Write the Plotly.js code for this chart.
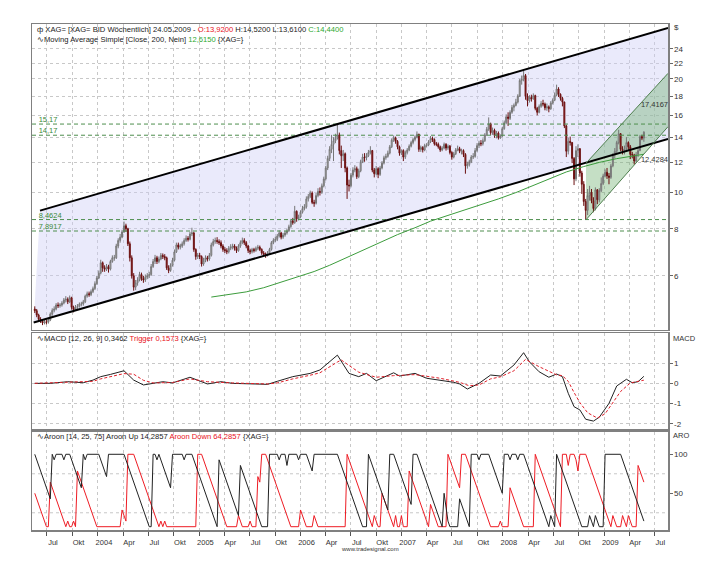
<!DOCTYPE html>
<html><head><meta charset="utf-8">
<script src="https://cdn.plot.ly/plotly-3.0.1.min.js"></script>
<style>html,body{margin:0;padding:0;background:#fff;}#chart{width:714px;height:576px;}</style>
</head><body><div id="chart"></div>
<script>
// ---- weekly silver candles (XAG=), week ending dates from 2003-05-18 ----
const opens = [
4.90,4.85,4.72,4.60,4.55,4.50,4.53,4.52,4.58,4.75,4.86,4.90,5.02,5.00,5.02,5.08,5.18,5.20,5.12,5.25,4.95,4.88,4.95,4.98,5.05,5.05,5.12,5.30,5.38,5.35,5.45,5.55,5.72,
5.92,6.10,6.50,6.30, 6.25,6.35,6.25,6.55,6.70, 6.70,7.20,7.45,7.60, 7.85,8.15,8.00,7.30, 6.70,6.00,5.60,5.75,5.85, 6.05,5.90,5.85,5.95, 6.00,6.05,6.35,6.55, 6.70,6.55,6.65,6.80,6.75, 6.70,6.30,6.20,6.40, 6.60,6.95,7.25,7.15,7.20, 7.30,7.45,7.55,7.50, 7.75,7.80,7.05,6.75,
6.80,6.75,6.45,6.60,6.70, 6.65,6.80,7.25,7.40, 7.45,7.40,7.35,7.20, 7.05,7.00,6.95,7.10, 7.15,7.20,7.10,7.00,7.20, 7.35,7.45,7.35,7.20, 7.00,6.95,7.05,7.00,7.10, 7.15,7.05,6.90,6.85, 6.80,6.90,7.05,7.35, 7.45,7.50,7.65,7.80,7.60, 7.70,7.80,7.90,8.10, 8.40,8.30,8.90,8.50,
8.60,8.85,9.05,9.15,9.60, 9.75,9.95,9.40,9.35, 9.80,10.05,10.00,10.40, 10.85,11.60,12.30,13.00,13.40, 13.70,13.90,14.20,12.90, 12.50,12.65,11.60,10.45, 10.40,11.10,11.45,11.55,11.00, 11.40,12.05,12.40,12.35, 12.50,12.75,12.90,11.45, 11.20,11.55,11.15,11.60,11.95, 12.35,12.45,12.70,13.20, 13.75,13.95,13.65,13.20,12.70,
12.90,12.40,12.75,12.95, 13.25,13.55,13.80,14.00, 14.25,13.00,13.15,12.95, 13.30,13.35,13.60,13.90,13.80, 13.45,13.40,13.20,12.95, 13.10,13.40,13.10,13.25, 12.75,12.40,12.65,12.95,13.05, 12.85,12.90,12.60,11.75, 11.85,12.05,12.40,12.45,12.90, 13.30,13.50,13.45,13.70, 14.20,14.70,15.20,14.40, 14.60,14.15,14.35,13.95,14.10,
14.75,15.30,15.85,15.70, 16.30,16.80,17.00,17.35, 18.00,19.80,19.95,20.40,18.00, 17.50,17.85,17.70,18.05, 16.70,16.30,16.90,17.20, 17.15,16.75,16.85,16.65,17.25, 17.55,18.10,18.80,18.20, 17.75,17.35,15.00,12.85,13.65, 13.55,12.30,10.85,12.90, 13.05,11.25,10.50,9.45, 8.95,9.80,10.00,9.50,9.05, 10.15,9.55,10.10,10.55,
11.05,11.30,11.05,10.95, 11.75,12.55,12.85,13.55, 14.30,13.00,12.90,13.05,13.55, 13.20,12.60,12.55,12.10, 12.60,12.90,14.05,13.92];
const highs = [
4.98,4.90,4.76,4.66,4.60,4.60,4.58,4.64,4.80,4.92,4.98,5.08,5.10,5.08,5.14,5.24,5.30,5.26,5.32,5.28,5.00,5.02,5.05,5.10,5.12,5.18,5.35,5.45,5.45,5.52,5.62,5.80,6.00,
6.20,6.62,6.55,6.40, 6.45,6.42,6.62,6.80,6.82, 7.30,7.55,7.75,7.95, 8.36,8.25,8.05,7.40, 6.80,6.10,5.85,5.95,6.15, 6.12,6.00,6.05,6.10, 6.15,6.45,6.65,6.82, 6.78,6.75,6.90,6.88,6.85, 6.75,6.40,6.48,6.70, 7.05,7.35,7.35,7.30,7.40, 7.55,7.68,7.65,7.85, 8.05,7.85,7.10,6.90,
6.90,6.80,6.70,6.80,6.78, 6.90,7.35,7.52,7.58, 7.60,7.50,7.45,7.28, 7.15,7.10,7.20,7.28, 7.30,7.28,7.18,7.28,7.45, 7.58,7.55,7.42,7.25, 7.08,7.12,7.12,7.18,7.25, 7.22,7.10,6.98,6.92, 6.98,7.12,7.42,7.55, 7.62,7.75,7.92,7.85,7.80, 7.90,8.00,8.20,8.50, 8.55,9.20,8.95,8.72,
8.95,9.20,9.30,9.75,9.90, 10.10,10.05,9.55,9.95, 10.25,10.30,10.55,11.00, 11.75,12.50,13.25,14.20,14.00, 14.30,15.15,14.40,13.30, 12.95,12.75,11.70,10.80, 11.25,11.65,11.80,11.70,11.55, 12.20,12.65,12.70,12.70, 12.95,13.25,12.95,11.60, 11.75,11.65,11.75,12.10,12.50, 12.65,12.90,13.35,13.90, 14.15,14.05,13.75,13.30,13.00,
13.00,12.90,13.10,13.40, 13.70,13.95,14.15,14.50, 14.30,13.30,13.25,13.45, 13.50,13.75,14.10,14.05,13.90, 13.60,13.55,13.30,13.25, 13.55,13.50,13.40,13.35, 12.85,12.80,13.10,13.30,13.20, 13.05,13.00,12.70,12.05, 12.20,12.55,12.70,13.10,13.50, 13.70,13.75,13.90,14.35, 14.90,15.80,15.30,14.85, 14.75,14.55,14.50,14.25,14.90,
15.50,16.10,16.30,16.50, 17.05,17.20,17.70,18.20, 20.00,20.40,21.00,20.60,18.30, 18.10,18.15,18.30,18.15, 16.85,17.10,17.45,17.60, 17.30,17.20,17.00,17.45,17.75, 18.40,19.30,19.00,18.30, 17.90,17.40,15.10,13.95,14.05, 13.60,12.40,13.25,13.40, 13.10,11.40,10.70,9.60, 10.20,10.40,10.20,9.70,10.30, 10.20,10.25,10.95,11.20,
11.50,11.60,11.25,11.90, 12.70,13.10,13.70,14.65, 14.35,13.25,13.30,14.00,13.65, 13.35,12.80,12.65,12.80, 13.10,14.20,14.20,14.52];
const lows = [
4.78,4.66,4.54,4.50,4.44,4.46,4.46,4.48,4.55,4.70,4.80,4.86,4.93,4.94,4.97,5.04,5.10,5.05,5.08,4.88,4.80,4.84,4.90,4.94,4.98,5.00,5.08,5.25,5.28,5.30,5.40,5.50,5.68,
5.88,6.05,6.15,6.15, 6.18,6.12,6.20,6.50,6.58, 6.65,7.10,7.35,7.55, 7.80,7.85,7.20,6.55, 5.90,5.48,5.50,5.65,5.80, 5.82,5.75,5.78,5.88, 5.92,6.00,6.30,6.45, 6.45,6.48,6.60,6.65,6.60, 6.22,6.10,6.15,6.35, 6.55,6.90,7.05,7.05,7.12, 7.22,7.38,7.40,7.45, 7.65,6.95,6.62,6.65,
6.65,6.35,6.38,6.52,6.55, 6.58,6.75,7.18,7.30, 7.30,7.25,7.10,6.95, 6.90,6.85,6.88,7.02, 7.05,7.00,6.90,6.95,7.12, 7.28,7.25,7.10,6.90, 6.85,6.88,6.92,6.95,7.02, 6.98,6.82,6.78,6.70, 6.75,6.85,7.00,7.28, 7.38,7.42,7.58,7.50,7.52, 7.62,7.72,7.85,8.05, 8.20,8.25,8.35,8.42,
8.55,8.78,8.95,9.05,9.45, 9.65,9.30,9.15,9.28, 9.70,9.80,9.90,10.30, 10.75,11.45,12.10,12.70,12.10, 13.50,13.80,12.60,11.60, 12.10,11.30,9.60,10.05, 10.30,10.95,11.30,10.85,10.90, 11.30,11.95,12.05,12.15, 12.40,12.60,11.30,10.95, 11.10,10.90,11.05,11.50,11.85, 12.20,12.35,12.60,13.10, 13.60,13.45,13.00,12.50,12.55,
12.10,12.25,12.60,12.85, 13.15,13.40,13.65,13.90, 12.80,12.80,12.75,12.85, 13.15,13.25,13.50,13.60,13.30, 13.25,13.05,12.80,12.85, 13.00,12.90,12.95,12.60, 12.20,12.30,12.55,12.85,12.70, 12.60,12.40,11.20,11.55, 11.70,11.95,12.25,12.35,12.80, 13.10,13.25,13.30,13.60, 14.10,14.55,14.20,14.20, 13.95,13.90,13.80,13.85,14.00,
14.65,15.15,15.00,15.55, 16.15,16.40,16.90,17.20, 17.90,19.30,19.70,17.60,16.90, 17.30,17.40,17.60,16.50, 16.00,16.20,16.75,16.90, 16.50,16.45,16.30,16.55,17.10, 17.45,18.00,17.90,17.50, 16.90,14.80,12.40,12.60,13.30, 11.95,10.45,10.70,12.40, 11.00,9.90,9.20,8.45, 8.70,9.50,9.35,8.85,8.95, 9.30,9.40,10.00,10.45,
10.95,10.85,10.50,10.85, 11.65,12.30,12.70,13.40, 12.85,12.60,12.60,12.80,12.90, 12.25,12.30,11.85,12.00, 12.40,12.85,13.75,13.61];
const closes = [
4.85,4.72,4.60,4.55,4.50,4.53,4.52,4.58,4.75,4.86,4.90,5.02,5.00,5.02,5.08,5.18,5.20,5.12,5.25,4.95,4.88,4.95,4.98,5.05,5.05,5.12,5.30,5.38,5.35,5.45,5.55,5.72,5.92,
6.10,6.50,6.30,6.25, 6.35,6.25,6.55,6.70,6.70, 7.20,7.45,7.60,7.85, 8.15,8.00,7.30,6.70, 6.00,5.60,5.75,5.85,6.05, 5.90,5.85,5.95,6.00, 6.05,6.35,6.55,6.70, 6.55,6.65,6.80,6.75,6.70, 6.30,6.20,6.40,6.60, 6.95,7.25,7.15,7.20,7.30, 7.45,7.55,7.50,7.75, 7.80,7.05,6.75,6.80,
6.75,6.45,6.60,6.70,6.65, 6.80,7.25,7.40,7.45, 7.40,7.35,7.20,7.05, 7.00,6.95,7.10,7.15, 7.20,7.10,7.00,7.20,7.35, 7.45,7.35,7.20,7.00, 6.95,7.05,7.00,7.10,7.15, 7.05,6.90,6.85,6.80, 6.90,7.05,7.35,7.45, 7.50,7.65,7.80,7.60,7.70, 7.80,7.90,8.10,8.40, 8.30,8.90,8.50,8.60,
8.85,9.05,9.15,9.60,9.75, 9.95,9.40,9.35,9.80, 10.05,10.00,10.40,10.85, 11.60,12.30,13.00,13.40,13.70, 13.90,14.20,12.90,12.50, 12.65,11.60,10.45,10.40, 11.10,11.45,11.55,11.00,11.40, 12.05,12.40,12.35,12.50, 12.75,12.90,11.45,11.20, 11.55,11.15,11.60,11.95,12.35, 12.45,12.70,13.20,13.75, 13.95,13.65,13.20,12.70,12.90,
12.40,12.75,12.95,13.25, 13.55,13.80,14.00,14.25, 13.00,13.15,12.95,13.30, 13.35,13.60,13.90,13.80,13.45, 13.40,13.20,12.95,13.10, 13.40,13.10,13.25,12.75, 12.40,12.65,12.95,13.05,12.85, 12.90,12.60,11.75,11.85, 12.05,12.40,12.45,12.90,13.30, 13.50,13.45,13.70,14.20, 14.70,15.20,14.40,14.60, 14.15,14.35,13.95,14.10,14.75,
15.30,15.85,15.70,16.30, 16.80,17.00,17.35,18.00, 19.80,19.95,20.40,18.00,17.50, 17.85,17.70,18.05,16.70, 16.30,16.90,17.20,17.15, 16.75,16.85,16.65,17.25,17.55, 18.10,18.80,18.20,17.75, 17.35,15.00,12.85,13.65,13.55, 12.30,10.85,12.90,13.05, 11.25,10.50,9.45,8.95, 9.80,10.00,9.50,9.05,10.15, 9.55,10.10,10.55,11.05,
11.30,11.05,10.95,11.75, 12.55,12.85,13.55,14.30, 13.00,12.90,13.05,13.55,13.20, 12.60,12.55,12.10,12.60, 12.90,14.05,13.92,14.44];

// ---- Moving Average Simple (200) ----
const smaDates = ['2005-02-13','2005-04-17','2005-06-19','2005-08-21','2005-10-16','2005-12-18','2006-02-19','2006-04-16','2006-06-18','2006-08-20','2006-10-15','2006-12-17','2007-02-18','2007-04-15','2007-06-17','2007-08-19','2007-10-21','2007-12-16','2008-02-17','2008-04-20','2008-06-15','2008-08-17','2008-10-19','2008-12-14','2009-02-15','2009-04-19','2009-05-24'];
const smaValues = [5.27,5.35,5.44,5.58,5.76,5.96,6.16,6.40,6.72,7.05,7.38,7.72,8.05,8.38,8.68,8.98,9.28,9.60,9.98,10.42,10.88,11.32,11.70,12.00,12.28,12.50,12.615];

// ---- horizontal levels ----
const levelValues = [15.17, 14.17, 8.4624, 7.8917];
const levelLabels = ['15,17', '14,17', '8,4624', '7,8917'];

// ---- trend channel (black) and green channel ----
const chanLowerDates = ['2003-05-14', '2009-08-19'];
const chanLowerValues = [4.51, 13.86];
const chanUpperDates = ['2003-06-06', '2009-08-19'];
const chanUpperValues = [8.94, 27.3];
const greenLowerDates = ['2008-10-27', '2009-08-19'];
const greenLowerValues = [8.45, 14.93];
const greenUpperDates = ['2008-10-27', '2009-08-19'];
const greenUpperValues = [11.94, 20.68];
const greenLabels = ['17,4167', '12,4284'];
const greenLabelValues = [17.4167, 12.4284];

// ---- MACD ----
const macdDates = ['2003-05-18','2003-07-13','2003-09-14','2003-11-09','2003-12-14','2004-01-11','2004-02-15','2004-04-04','2004-05-09','2004-06-13','2004-07-18','2004-08-22','2004-09-26','2004-11-28','2005-01-30','2005-03-20','2005-05-01','2005-07-03','2005-09-04','2005-10-09','2005-12-04','2006-02-05','2006-03-12','2006-05-14','2006-06-25','2006-07-30','2006-08-27','2006-10-01','2006-12-03','2006-12-24','2007-02-18','2007-04-01','2007-05-20','2007-07-08','2007-07-29','2007-08-26','2007-10-07','2007-11-18','2007-12-23','2008-02-10','2008-03-16','2008-04-06','2008-05-11','2008-06-15','2008-07-13','2008-08-03','2008-08-24','2008-09-14','2008-10-05','2008-10-26','2008-11-23','2008-12-14','2009-01-18','2009-02-15','2009-03-22','2009-04-12','2009-05-03','2009-05-24'];
const macdValues = [0.00,0.00,0.08,0.03,0.16,0.33,0.44,0.62,0.16,-0.08,0.00,0.08,0.02,0.30,-0.03,0.08,0.00,-0.03,-0.05,0.10,0.33,0.49,0.66,1.39,0.49,0.33,0.49,0.13,0.52,0.36,0.49,0.25,0.16,0.05,-0.03,-0.28,0.00,0.41,0.36,0.90,1.51,1.06,0.57,0.30,0.46,0.33,-0.49,-1.15,-1.31,-1.77,-1.86,-1.67,-0.99,-0.13,0.20,0.03,0.08,0.3462];
const triggerDates = ['2003-05-18','2003-09-14','2003-12-14','2004-01-11','2004-04-04','2004-05-09','2004-06-13','2004-07-18','2004-09-26','2004-11-28','2005-01-30','2005-05-01','2005-09-04','2005-10-09','2005-12-04','2006-02-05','2006-03-12','2006-05-14','2006-05-28','2006-07-30','2006-10-01','2006-12-03','2007-02-18','2007-05-20','2007-07-29','2007-09-02','2007-10-07','2007-11-18','2007-12-23','2008-02-10','2008-03-23','2008-05-11','2008-07-13','2008-08-03','2008-08-24','2008-09-14','2008-10-05','2008-11-02','2008-12-07','2009-01-04','2009-02-01','2009-03-01','2009-04-05','2009-05-03','2009-05-24'];
const triggerValues = [0.00,0.04,0.10,0.22,0.48,0.45,0.15,0.02,0.04,0.22,0.08,0.02,-0.03,0.02,0.22,0.40,0.52,1.05,1.15,0.55,0.30,0.38,0.43,0.25,0.05,-0.12,-0.08,0.22,0.32,0.62,1.18,0.82,0.42,0.38,0.10,-0.45,-0.95,-1.45,-1.71,-1.50,-0.95,-0.40,0.02,0.10,0.1573];

// ---- Aroon (vertices, by week index) ----
const aroonUpWeek = [0,8,9,10,11,14,15,16,18,24,25,26,27,33,37,38,46,59,60,61,62,63,64,70,71,76,77,78,81,94,95,105,106,117,120,121,125,126,127,129,130,131,135,136,137,140,143,144,156,169,171,172,181,182,183,185,194,195,197,210,211,213,214,218,219,224,225,228,229,230,234,241,242,244,245,246,248,249,250,252,265,266,267,268,269,282,285,286,287,288,289,290,291,293,294,302,314];
const aroonUpValues = [100,42.9,100,92.9,100,100,92.9,100,100,57.1,100,92.9,100,100,71.4,100,100,7.14,7.14,100,100,92.9,100,57.1,100,100,92.9,100,100,7.14,92.9,21.4,85.7,7.14,7.14,100,100,92.9,100,100,85.7,100,100,92.9,100,100,78.6,100,100,7.14,7.14,100,35.7,28.6,100,100,35.7,100,100,7.14,50,14.3,7.14,7.14,42.9,7.14,100,100,92.9,100,100,50,100,100,92.9,100,100,92.9,100,100,7.14,21.4,14.3,7.14,100,7.14,7.14,21.4,14.3,7.14,21.4,14.3,7.14,7.14,100,100,14.3];
const aroonDownWeek = [0,6,7,8,16,17,18,19,20,21,22,32,44,45,47,48,51,64,65,66,67,68,83,84,86,99,104,105,106,107,110,111,112,114,115,116,117,119,132,136,137,140,143,144,146,160,161,174,175,176,177,178,179,185,186,187,188,189,190,192,193,203,204,208,212,213,214,216,219,220,222,235,239,240,241,244,245,252,257,258,271,272,274,275,276,278,279,280,281,284,296,297,298,299,300,302,303,304,305,306,307,308,310,311,312,313,314];
const aroonDownValues = [50,7.14,7.14,64.3,7.14,14.3,7.14,7.14,14.3,7.14,78.6,7.14,7.14,28.6,14.3,100,100,7.14,14.3,7.14,14.3,7.14,7.14,100,100,7.14,7.14,21.4,14.3,7.14,7.14,14.3,7.14,7.14,71.4,64.3,100,100,7.14,7.14,28.6,7.14,7.14,21.4,7.14,7.14,100,7.14,21.4,14.3,7.14,7.14,50,7.14,21.4,7.14,7.14,21.4,7.14,7.14,78.6,7.14,35.7,7.14,7.14,100,92.9,78.6,57.1,100,100,7.14,7.14,14.3,7.14,7.14,57.1,7.14,7.14,100,7.14,100,100,85.7,100,100,92.9,78.6,100,100,14.3,7.14,21.4,14.3,7.14,7.14,21.4,14.3,7.14,21.4,14.3,7.14,7.14,85.7,78.6,71.4,64.3];

// ---- axes ----
const tickDates = ['2003-07-01','2003-10-01','2004-01-01','2004-04-01','2004-07-01','2004-10-01','2005-01-01','2005-04-01','2005-07-01','2005-10-01','2006-01-01','2006-04-01','2006-07-01','2006-10-01','2007-01-01','2007-04-01','2007-07-01','2007-10-01','2008-01-01','2008-04-01','2008-07-01','2008-10-01','2009-01-01','2009-04-01','2009-07-01'];
const tickLabels = ['Jul','Okt','2004','Apr','Jul','Okt','2005','Apr','Jul','Okt','2006','Apr','Jul','Okt','2007','Apr','Jul','Okt','2008','Apr','Jul','Okt','2009','Apr','Jul'];
const priceTicks = [6,8,10,12,14,16,18,20,22,24];
const macdTicks = [-2,-1,0,1];
const aroonTicks = [50,100];
const xRange = ['2003-05-08','2009-08-19'];

const weekDates = [];
const t0 = Date.UTC(2003, 4, 18);
for (let i = 0; i < closes.length; i++) weekDates.push(new Date(t0 + i * 7 * 86400000).toISOString().slice(0, 10));

const FONT = 'Liberation Sans, Arial, sans-serif';
const traces = [];
// lavender channel fill (base subplot)
traces.push({type:'scatter', mode:'lines', xaxis:'x', yaxis:'y',
  x:[chanLowerDates[0], chanLowerDates[1], chanUpperDates[1], chanUpperDates[0]],
  y:[chanLowerValues[0], chanLowerValues[1], chanUpperValues[1], chanUpperValues[0]],
  fill:'toself', fillcolor:'rgba(205,205,245,0.42)', line:{width:0, color:'rgba(0,0,0,0)'}, hoverinfo:'skip'});
// green channel fill
traces.push({type:'scatter', mode:'lines', xaxis:'x', yaxis:'y',
  x:[greenLowerDates[0], greenLowerDates[1], greenUpperDates[1], greenUpperDates[0]],
  y:[greenLowerValues[0], greenLowerValues[1], greenUpperValues[1], greenUpperValues[0]],
  fill:'toself', fillcolor:'rgba(110,175,110,0.40)', line:{width:0, color:'rgba(0,0,0,0)'}, hoverinfo:'skip'});
// candles (overlay)
traces.push({type:'candlestick', xaxis:'x', yaxis:'y4', x:weekDates, open:opens, high:highs, low:lows, close:closes,
  increasing:{line:{color:'#767676', width:1}, fillcolor:'#d2d2d2'},
  decreasing:{line:{color:'#6a1010', width:1}, fillcolor:'#a32020'}, whiskerwidth:0, hoverinfo:'skip'});
// SMA
traces.push({type:'scatter', mode:'lines', xaxis:'x', yaxis:'y4', x:smaDates, y:smaValues, line:{color:'#3c9c3c', width:1}, hoverinfo:'skip'});
// levels
const lvX = [], lvY = [];
levelValues.forEach(v => { lvX.push(xRange[0], xRange[1], null); lvY.push(v, v, null); });
traces.push({type:'scatter', mode:'lines', xaxis:'x', yaxis:'y4', x:lvX, y:lvY, connectgaps:false,
  line:{color:'#4e8e4e', width:1, dash:'4px,3px'}, hoverinfo:'skip'});
traces.push({type:'scatter', mode:'text', xaxis:'x', yaxis:'y4', x:levelValues.map(() => '2003-06-01'), y:levelValues,
  text:levelLabels, textposition:'top right', textfont:{family:FONT, size:7.5, color:'#3a8a3a'}, hoverinfo:'skip'});
// black channel lines
traces.push({type:'scatter', mode:'lines', xaxis:'x', yaxis:'y4',
  x:[chanLowerDates[0], chanLowerDates[1], null, chanUpperDates[0], chanUpperDates[1]],
  y:[chanLowerValues[0], chanLowerValues[1], null, chanUpperValues[0], chanUpperValues[1]],
  connectgaps:false, line:{color:'#000', width:2}, hoverinfo:'skip'});
// green channel lines
traces.push({type:'scatter', mode:'lines', xaxis:'x', yaxis:'y4',
  x:[greenLowerDates[0], greenLowerDates[1], null, greenUpperDates[0], greenUpperDates[1]],
  y:[greenLowerValues[0], greenLowerValues[1], null, greenUpperValues[0], greenUpperValues[1]],
  connectgaps:false, line:{color:'#4f7f4f', width:1}, hoverinfo:'skip'});
traces.push({type:'scatter', mode:'text', xaxis:'x', yaxis:'y4', x:greenLabelValues.map(() => xRange[1]), y:greenLabelValues,
  text:greenLabels, textposition:'bottom left', textfont:{family:FONT, size:7.5, color:'#333'}, hoverinfo:'skip'});
// MACD
traces.push({type:'scatter', mode:'lines', xaxis:'x2', yaxis:'y2', x:macdDates, y:macdValues, line:{color:'#222', width:1}, hoverinfo:'skip'});
traces.push({type:'scatter', mode:'lines', xaxis:'x2', yaxis:'y2', x:triggerDates, y:triggerValues, line:{color:'#e0202a', width:1, dash:'3px,2px'}, hoverinfo:'skip'});
// Aroon
traces.push({type:'scatter', mode:'lines', xaxis:'x3', yaxis:'y3', x:aroonDownWeek.map(i => weekDates[i]), y:aroonDownValues, line:{color:'#ee1c24', width:1}, hoverinfo:'skip'});
traces.push({type:'scatter', mode:'lines', xaxis:'x3', yaxis:'y3', x:aroonUpWeek.map(i => weekDates[i]), y:aroonUpValues, line:{color:'#222', width:1}, hoverinfo:'skip'});

const gridX = {type:'date', range:xRange, tickvals:tickDates, ticktext:tickLabels, showgrid:true, gridcolor:'#c8c8c8', griddash:'dot',
  showline:true, mirror:true, linecolor:'#808080', linewidth:1.5, zeroline:false, rangeslider:{visible:false}};
const yBase = {side:'right', showline:true, mirror:true, linecolor:'#808080', linewidth:1.5, zeroline:false,
  ticks:'outside', ticklen:3, tickcolor:'#666', tickfont:{family:FONT, size:8, color:'#333'}, showgrid:true, gridcolor:'#c8c8c8', griddash:'dot'};
const yLog = [Math.log10(4.31), Math.log10(27.96)];

const layout = {
  width:714, height:576, paper_bgcolor:'#fff', plot_bgcolor:'#fff', showlegend:false, hovermode:false, dragmode:false,
  margin:{l:32, r:46, t:24, b:46},
  font:{family:FONT, size:8, color:'#333'},
  xaxis: Object.assign({}, gridX, {anchor:'y', showticklabels:false, ticks:''}),
  xaxis2: Object.assign({}, gridX, {anchor:'y2', matches:'x', showticklabels:false, ticks:''}),
  xaxis3: Object.assign({}, gridX, {anchor:'y3', matches:'x', showticklabels:true, ticks:'outside', ticklen:4, tickcolor:'#555',
    ticklabelshift:6, tickfont:{family:FONT, size:7.5, color:'#333'}}),
  yaxis: Object.assign({}, yBase, {domain:[0.3953, 1], anchor:'x', type:'log', range:yLog, tickvals:priceTicks, ticktext:priceTicks.map(String)}),
  yaxis4: {overlaying:'y', anchor:'x', type:'log', range:yLog, side:'right', visible:false, showgrid:false, zeroline:false},
  yaxis2: Object.assign({}, yBase, {domain:[0.1996, 0.3893], anchor:'x2', range:[-2.25, 2.48], tickvals:macdTicks, ticktext:macdTicks.map(String)}),
  yaxis3: Object.assign({}, yBase, {domain:[0, 0.1937], anchor:'x3', range:[2.9, 128.6], tickvals:aroonTicks, ticktext:aroonTicks.map(String), showgrid:false}),
  shapes:[25, 75].map(v => ({type:'line', xref:'paper', x0:0, x1:1, yref:'y3', y0:v, y1:v, layer:'below', line:{color:'#c8c8c8', width:1, dash:'dot'}})),
  annotations:[
    {xref:'paper', yref:'paper', x:0.004, y:0.990, xanchor:'left', yanchor:'middle', showarrow:false, font:{family:FONT, size:7.6, color:'#222'},
      text:'ф XAG= [XAG= BID Wöchentlich] 24.05.2009 - <span style="color:#e8101a">O:13,9200</span> H:14,5200 L:13,6100 <span style="color:#2ea82e">C:14,4400</span>'},
    {xref:'paper', yref:'paper', x:0.004, y:0.970, xanchor:'left', yanchor:'middle', showarrow:false, font:{family:FONT, size:7.6, color:'#222'},
      text:'∿Moving Average Simple [Close, 200, Nein] <span style="color:#2ea82e">12,6150</span> {XAG=}'},
    {xref:'paper', yref:'paper', x:0.004, y:0.3775, xanchor:'left', yanchor:'middle', showarrow:false, font:{family:FONT, size:7.6, color:'#222'},
      text:'∿MACD [12, 26, 9] 0,3462 <span style="color:#e8101a">Trigger 0,1573</span> {XAG=}'},
    {xref:'paper', yref:'paper', x:0.004, y:0.1838, xanchor:'left', yanchor:'middle', showarrow:false, font:{family:FONT, size:7.6, color:'#222'},
      text:'∿Aroon [14, 25, 75] Aroon Up 14,2857 <span style="color:#e8101a">Aroon Down 64,2857</span> {XAG=}'},
    {xref:'paper', yref:'paper', x:1.006, y:0.993, xanchor:'left', yanchor:'middle', showarrow:false, font:{family:FONT, size:8, color:'#333'}, text:'$'},
    {xref:'paper', yref:'paper', x:1.004, y:0.3794, xanchor:'left', yanchor:'middle', showarrow:false, font:{family:FONT, size:7.5, color:'#333'}, text:'MACD'},
    {xref:'paper', yref:'paper', x:1.004, y:0.1858, xanchor:'left', yanchor:'middle', showarrow:false, font:{family:FONT, size:7.5, color:'#333'}, text:'ARO'},
    {xref:'paper', yref:'paper', x:0.532, y:-0.0375, xanchor:'center', yanchor:'middle', showarrow:false, font:{family:FONT, size:6, color:'#333'}, text:'www.tradesignal.com'}
  ]
};
Plotly.newPlot('chart', traces, layout, {staticPlot:true, displayModeBar:false});
</script></body></html>
